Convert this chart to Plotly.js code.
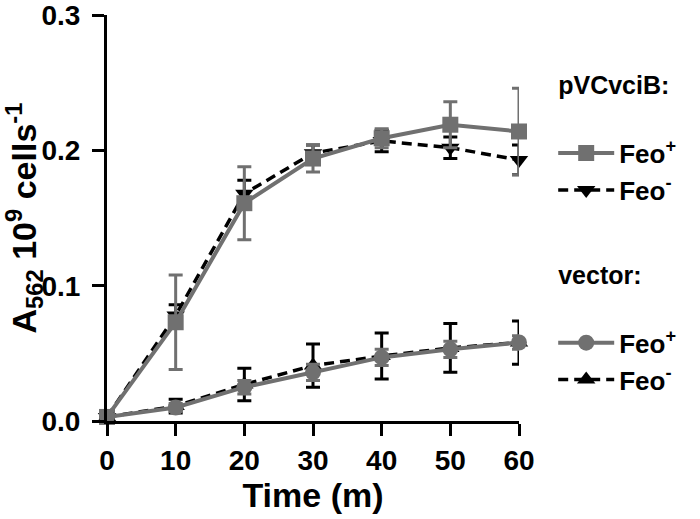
<!DOCTYPE html>
<html>
<head>
<meta charset="utf-8">
<script src="https://cdn.plot.ly/plotly-3.0.1.min.js"></script>
<style>html,body{margin:0;padding:0;background:#fff;}#chart{width:700px;height:519px;}</style>
</head>
<body>
<div id="chart"></div>
<script>
const time = [0, 10, 20, 30, 40, 50, 60];
const pvcFeoPlus = [0.003, 0.073, 0.161, 0.194, 0.209, 0.219, 0.214];
const pvcFeoPlusErr = [0.002, 0.035, 0.027, 0.010, 0.007, 0.017, 0.032];
const pvcFeoMinus = [0.003, 0.078, 0.168, 0.198, 0.207, 0.202, 0.193];
const pvcFeoMinusErr = [0.002, 0.008, 0.010, 0.006, 0.008, 0.008, 0.011];
const vecFeoPlus = [0.003, 0.010, 0.025, 0.036, 0.047, 0.053, 0.058];
const vecFeoPlusErr = [0.001, 0.003, 0.005, 0.006, 0.006, 0.006, 0.005];
const vecFeoMinus = [0.003, 0.011, 0.027, 0.041, 0.048, 0.054, 0.058];
const vecFeoMinusErr = [0.002, 0.005, 0.012, 0.016, 0.017, 0.018, 0.016];
const yTicks = [0, 0.1, 0.2, 0.3];
const yTickText = ['0.0', '0.1', '0.2', '0.3'];
const groupTitles = ['pVCvciB:', 'vector:'];
const seriesNames = ['Feo<sup>+</sup>', 'Feo<sup>-</sup>'];

const GRAY = '#707070';
const BLACK = '#000000';
const FONT = 'Liberation Sans, Arial, sans-serif';

function trace(y, err, color, dash, symbol, group, title, name, rank) {
  return {
    x: time, y: y, type: 'scatter', mode: 'lines+markers',
    name: name, legendgroup: group, legendrank: rank,
    legendgrouptitle: {text: title + '<br> ', font: {family: FONT, size: 25, color: '#000', weight: 700}},
    line: {color: color, width: dash === 'solid' ? 4 : 3.5, dash: dash === 'solid' ? 'solid' : '10px,6px'},
    marker: {symbol: symbol, size: 16, color: color},
    error_y: {type: 'data', array: err, visible: true, color: color, thickness: 3, width: 7},
    cliponaxis: false
  };
}

const data = [
  trace(pvcFeoMinus, pvcFeoMinusErr, BLACK, 'dash', 'triangle-down', 'g1', groupTitles[0], seriesNames[1], 2),
  trace(pvcFeoPlus, pvcFeoPlusErr, GRAY, 'solid', 'square', 'g1', groupTitles[0], seriesNames[0], 1),
  trace(vecFeoMinus, vecFeoMinusErr, BLACK, 'dash', 'triangle-up', 'g2', groupTitles[1], seriesNames[1], 4),
  trace(vecFeoPlus, vecFeoPlusErr, GRAY, 'solid', 'circle', 'g2', groupTitles[1], seriesNames[0], 3)
];

const layout = {
  width: 700, height: 519,
  margin: {l: 107, r: 181, t: 15, b: 98},
  paper_bgcolor: '#fff', plot_bgcolor: '#fff',
  font: {family: FONT, color: '#000', size: 28, weight: 700},
  showlegend: true,
  legend: {
    x: 1.083, xanchor: 'left', y: 0.885, yanchor: 'top',
    font: {family: FONT, size: 26, color: '#000', weight: 700},
    traceorder: 'grouped', tracegroupgap: 48, itemwidth: 56,
    bgcolor: 'rgba(0,0,0,0)'
  },
  xaxis: {
    range: [0, 60], tickvals: time, ticktext: time.map(String),
    showgrid: false, zeroline: false,
    showline: true, linecolor: '#000', linewidth: 3,
    ticks: 'outside', ticklen: 12, tickwidth: 3, tickcolor: '#000',
    ticklabeloverflow: 'allow',
    tickfont: {family: FONT, size: 28, color: '#000', weight: 700},
    title: {text: 'Time (m)', font: {family: FONT, size: 34, color: '#000', weight: 700}, standoff: 8}
  },
  yaxis: {
    range: [0, 0.3001], tickvals: yTicks, ticktext: yTickText,
    showgrid: false, zeroline: false,
    showline: true, linecolor: '#000', linewidth: 3,
    ticks: 'outside', ticklen: 12, tickwidth: 3, tickcolor: '#000',
    ticklabelstandoff: 6, ticklabeloverflow: 'allow',
    tickfont: {family: FONT, size: 28, color: '#000', weight: 700},
    title: {text: 'A<sub>562</sub> 10<sup>9</sup> cells<sup>-1</sup>', font: {family: FONT, size: 34, color: '#000', weight: 700}, standoff: 11}
  }
};

Plotly.newPlot('chart', data, layout, {displayModeBar: false, staticPlot: true});
</script>
</body>
</html>
